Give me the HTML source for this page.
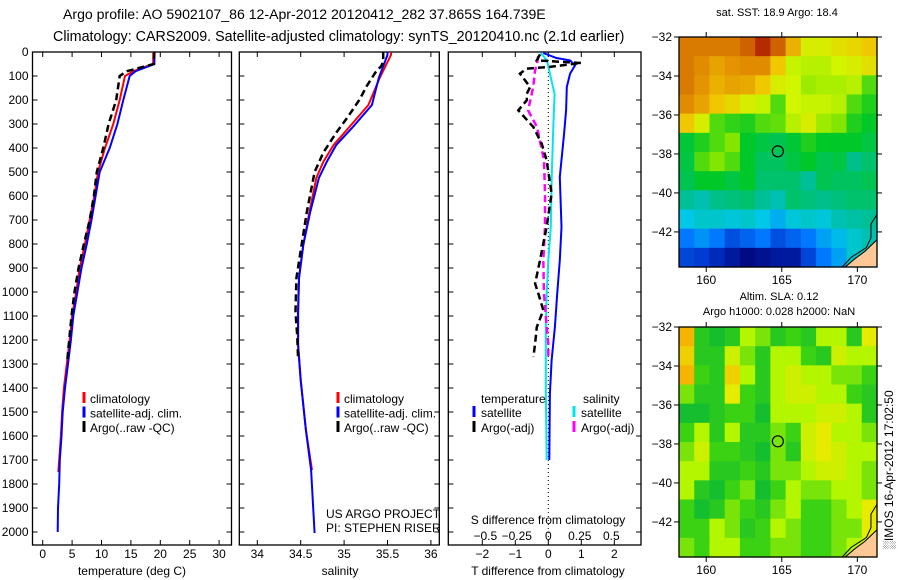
<!DOCTYPE html>
<html><head><meta charset="utf-8"><style>
html,body{margin:0;padding:0;background:#fff;}
svg{display:block;font-family:"Liberation Sans",sans-serif;}
text{fill:#000;}
</style></head><body>
<svg id="fig" width="900" height="580" viewBox="0 0 900 580">
<text x="63" y="19" font-size="14.1">Argo profile: AO 5902107_86 12-Apr-2012 20120412_282 37.865S 164.739E</text>
<text x="53" y="41" font-size="14.3">Climatology: CARS2009. Satellite-adjusted climatology: synTS_20120410.nc (2.1d earlier)</text>
</svg>
<script>
// ---- data ----
const depthT=[0,50,80,100,200,300,400,500,600,700,800,900,1000,1100,1200,1300,1400,1500,1600,1700,1750];
const tempClim=[18.8,18.8,15.4,14.0,13.1,12.0,10.6,9.4,8.8,8.0,7.2,6.3,5.7,5.0,4.6,4.1,3.6,3.3,3.1,2.8,2.65];
const depthTS=[0,50,80,100,200,300,400,500,600,700,800,900,1000,1100,1200,1300,1400,1500,1600,1700,1800,1900,2000];
const tempSat=[19.0,19.0,15.8,14.8,13.7,12.7,11.4,9.7,9.0,8.3,7.5,6.6,5.9,5.2,4.8,4.3,3.8,3.4,3.2,2.9,2.8,2.6,2.55];
const depthA=[0,50,80,100,200,300,400,500,600,700,800,900,1000,1100,1200,1280];
const tempArgo=[19.0,18.9,14.3,13.1,12.5,11.2,10.3,9.2,8.7,8.0,7.0,6.1,5.4,4.9,4.5,4.2];
const depthS=[0,12,108,221,317,387,458,525,667,804,942,1083,1221,1367,1575,1742];
const salClim=[35.54,35.54,35.41,35.28,35.05,34.88,34.76,34.68,34.60,34.53,34.48,34.47,34.47,34.50,34.56,34.63];
const depthSS=[0,12,108,221,317,387,458,525,667,804,942,1083,1221,1367,1575,1742,2004];
const salSat=[35.50,35.50,35.40,35.32,35.09,34.91,34.80,34.71,34.61,34.53,34.48,34.47,34.47,34.50,34.56,34.62,34.66];
const depthSA=[0,40,58,86,142,197,267,336,419,500,667,804,942,1083,1180,1280];
const salArgo=[35.45,35.45,35.43,35.36,35.26,35.18,35.05,34.91,34.76,34.66,34.57,34.51,34.45,34.44,34.46,34.47];
const depthD=[4,25,35,56,90,146,243,340,521,729,868,1007,1146,1285,1424,1700];
const tDiffSat=[-0.15,0.25,0.66,0.81,0.66,0.56,0.54,0.48,0.35,0.40,0.35,0.27,0.20,0.10,0.05,0.03];
const depthDS=[4,35,90,174,313,521,729,868,1007,1146,1424,1700];
const sDiffSat=[-0.06,-0.01,0.013,0.05,0.04,0.027,0.02,0,-0.013,-0.02,-0.02,-0.013];
const depthDA=[10,35,46,62,69,90,146,174,201,243,313,382,451,590,729,868,965,1007,1076,1146,1215,1271];
const tDiffArgo=[-0.25,-0.35,1.0,0.05,-0.65,-0.86,-0.55,-0.65,-0.65,-0.91,-0.45,-0.2,-0.05,0.1,-0.05,-0.25,-0.4,-0.3,-0.15,-0.35,-0.4,-0.45];
const depthDM=[17,49,76,146,243,313,451,590,729,868,1007,1146,1215,1271];
const sDiffArgo=[-0.08,-0.09,-0.105,-0.12,-0.16,-0.09,-0.034,-0.026,-0.026,-0.04,-0.034,-0.013,0,0];
const depthTicks=[0,100,200,300,400,500,600,700,800,900,1000,1100,1200,1300,1400,1500,1600,1700,1800,1900,2000];
const tempTicks=[0,5,10,15,20,25,30];
const salTicks=[34,34.5,35,35.5,36];
const salTickLabels=["34","34.5","35","35.5","36"];
const tdTicks=[-2,-1,0,1,2];
const sdTicks=[-0.5,-0.25,0,0.25,0.5];
const sdTickLabels=["\u22120.5","\u22120.25","0","0.25","0.5"];
const lonTicks=[160,165,170];
const latTicks=[-32,-34,-36,-38,-40,-42];
const argoLon=164.739, argoLat=-37.865;
const sstGrid=[
[20,20,20,20,20.3,20.8,20.3,19.3,18.5,18.5,18.7,18.8,19],
[20,19.8,19.5,19.7,19.8,19.8,19,18.3,18.2,18.2,18.4,18.5,18.7],
[20,19.7,19.3,19.5,19.4,19,18.5,18.4,18,18.1,18.1,18.2,17.5],
[19.8,19.5,19,18.8,18.5,18.3,17.5,18.4,18.3,18.3,18.2,17.5,17.2],
[19,18.5,17.5,17.3,17.2,17.5,17.6,18.2,18.5,18,17.8,17.2,17],
[16.9,17.2,17.5,17.8,17,16.8,16.7,16.9,17.2,17,17,17,16.8],
[16.8,17.5,17.8,17.5,17,16.6,16.6,16.8,17,16.7,16.8,16.3,16.5],
[16.7,17,17,16.8,17,16.5,16.5,16.5,16.2,16.7,16.6,16.6,16.7],
[16.2,16,16.3,16.4,16.5,16.2,16,16.5,16.4,16.3,16.4,16.5,16.5],
[15.6,15.8,15.8,15.7,15.8,15.6,15.4,15.7,15.8,15.7,16,16.1,16.2],
[15,15.2,15,14.6,14.8,15,14.6,14.8,15,15.3,15.5,15.8,16],
[14.5,14.4,14.2,14,13.8,13.9,14,14,14.5,15,15.3,15.8,16]];
const slaGrid=[
[.9,.2,.1,.2,.5,.4,.2,.3,.2,.5,.5,.2,.7],
[.8,.2,.2,.6,.4,.2,.5,.5,.3,.2,.6,.5,.5],
[.9,.3,.2,.8,.5,.2,.5,.6,.5,.5,.4,.4,.3],
[.4,.2,.2,.7,.3,.2,.5,.6,.6,.5,.5,.3,.2],
[.1,.1,.2,.3,.3,.1,.5,.5,.5,.6,.6,.5,.2],
[.3,.5,.2,.5,.2,.2,.4,.3,.6,.7,.5,.5,.4],
[.4,.6,.3,.3,.2,.1,.4,.2,.6,.7,.6,.5,.5],
[.5,.5,.2,.2,.3,.2,.4,.4,.5,.6,.6,.5,.4],
[.5,.2,.1,.3,.4,.1,.3,.5,.4,.4,.5,.5,.4],
[.3,.1,.2,.4,.3,.2,.4,.5,.3,.3,.4,.5,.7],
[.3,.3,.5,.4,.2,.3,.5,.4,.3,.3,.4,.4,.7],
[.4,.3,.5,.5,.3,.3,.4,.4,.3,.3,.4,.5,.6]];

const NS='http://www.w3.org/2000/svg';
const svg=document.getElementById('fig');
function mk(tag,attrs,parent){const e=document.createElementNS(NS,tag);for(const k in attrs)e.setAttribute(k,attrs[k]);(parent||svg).appendChild(e);return e;}
const Y0=52, YB=545, yPerM=0.24;
const yD=d=>Y0+d*yPerM;
const xT=t=>42.7+t*5.88;
const xS=s=>257.3+(s-34)*86.8;
const xTD=v=>548.3+v*33;
const xSD=v=>548.3+v*126;
function poly(xs,ds,fx,color,dash,name){
  const pts=xs.map((v,i)=>fx(v).toFixed(1)+','+yD(ds[i]).toFixed(1)).join(' ');
  const p=mk('polyline',{points:pts,fill:'none',stroke:color,'stroke-width':dash?2.5:2,'stroke-dasharray':dash?'7,4':'none'});
  
  
}
function panel(x0,x1,name,leftLabels){
  const r=mk('rect',{x:x0,y:Y0,width:x1-x0,height:YB-Y0,fill:'#fff',stroke:'#000','stroke-width':1.3});
  
  
  depthTicks.forEach(d=>{
    mk('line',{x1:x0,x2:x0+5,y1:yD(d),y2:yD(d),stroke:'#000'});
    mk('line',{x1:x1,x2:x1-5,y1:yD(d),y2:yD(d),stroke:'#000'});
    if(leftLabels){const t=mk('text',{x:x0-4,y:yD(d)+4,'font-size':12,'text-anchor':'end'});t.textContent=d;
      
      }
  });
}
function xticks(vals,labels,fx,ylab){
  vals.forEach((v,i)=>{const x=fx(v);
    mk('line',{x1:x,x2:x,y1:YB,y2:YB-5,stroke:'#000'});mk('line',{x1:x,x2:x,y1:Y0,y2:Y0+5,stroke:'#000'});
    if(labels){const t=mk('text',{x:x,y:ylab,'font-size':12,'text-anchor':'middle'});t.textContent=labels[i];
      
      }
  });
}
function txt(x,y,s,size,name,anchor){const t=mk('text',{x:x,y:y,'font-size':size,'text-anchor':anchor||'start'});t.textContent=s;
  
  return t;}
function legMark(x,y,color,name){const l=mk('line',{x1:x,x2:x,y1:y-11,y2:y,stroke:color,'stroke-width':3});
  
  }

panel(32.5,231.5,'temperature-panel',true);
xticks(tempTicks,tempTicks.map(String),xT,558);
txt(132,575,'temperature (deg C)',12,'temperature-axis-title','middle');
poly(tempClim,depthT,xT,'#ff0000',false,'temp-climatology-line');
poly(tempSat,depthTS,xT,'#0000ff',false,'temp-satellite-line');
poly(tempArgo,depthA,xT,'#000',true,'temp-argo-line');
[['climatology','#ff0000'],['satellite-adj. clim.','#0000ff'],['Argo(..raw -QC)','#000']].forEach((e,i)=>{
  legMark(84,403+i*14.5,e[1],'temp-legend-marker');txt(90,403+i*14.5,e[0],12,'temp-legend-entry');});

panel(239.3,439.3,'salinity-panel',false);
xticks(salTicks,salTickLabels,xS,558);
txt(340,575,'salinity',12,'salinity-axis-title','middle');
poly(salClim,depthS,xS,'#ff0000',false,'sal-climatology-line');
poly(salSat,depthSS,xS,'#0000ff',false,'sal-satellite-line');
poly(salArgo,depthSA,xS,'#000',true,'sal-argo-line');
[['climatology','#ff0000'],['satellite-adj. clim.','#0000ff'],['Argo(..raw -QC)','#000']].forEach((e,i)=>{
  legMark(338,403+i*14.5,e[1],'sal-legend-marker');txt(344,403+i*14.5,e[0],12,'sal-legend-entry');});
txt(326,518,'US ARGO PROJECT',12,'project-label');
txt(326,532,'PI: STEPHEN RISER',12,'pi-label');

panel(448.3,641,'difference-panel',false);
xticks(tdTicks,tdTicks.map(v=>v<0?'\u2212'+(-v):String(v)),xTD,558);
sdTicks.forEach((v,i)=>txt(xSD(v),540,sdTickLabels[i],12,'s-diff-tick-label','middle'));
mk('line',{x1:548.3,x2:548.3,y1:Y0,y2:YB,stroke:'#000','stroke-dasharray':'1,3'});
txt(548,524,'S difference from climatology',12,'s-diff-axis-title','middle');
txt(548,575,'T difference from climatology',12,'t-diff-axis-title','middle');
poly(sDiffSat,depthDS,xSD,'#00e5ee',false,'sal-diff-satellite-line');
poly(sDiffArgo,depthDM,xSD,'#ff00ff',true,'sal-diff-argo-line');
poly(tDiffSat,depthD,xTD,'#0000ff',false,'temp-diff-satellite-line');
poly(tDiffArgo,depthDA,xTD,'#000',true,'temp-diff-argo-line');
txt(481,403,'temperature',12,'diff-legend-temperature-heading');
txt(583,403,'salinity',12,'diff-legend-salinity-heading');
legMark(474,417,'#0000ff','diff-legend-marker');txt(481,417,'satellite',12,'diff-legend-entry');
legMark(474,432,'#000','diff-legend-marker');txt(481,432,'Argo(-adj)',12,'diff-legend-entry');
legMark(574,417,'#00e5ee','diff-legend-marker');txt(581,417,'satellite',12,'diff-legend-entry');
legMark(574,432,'#ff00ff','diff-legend-marker');txt(581,432,'Argo(-adj)',12,'diff-legend-entry');

const MX0=679, MX1=877, lonMin=158.2, lonMax=171.3;
const xLon=l=>MX0+(l-lonMin)*(MX1-MX0)/(lonMax-lonMin);
function rgb(a){return 'rgb('+a.map(Math.round).join(',')+')';}
function lerpC(stops,v){
  if(v<=stops[0][0])return rgb(stops[0][1]);
  for(let i=1;i<stops.length;i++){if(v<=stops[i][0]){const a=stops[i-1],b=stops[i],f=(v-a[0])/(b[0]-a[0]);
    return rgb([0,1,2].map(k=>a[1][k]+(b[1][k]-a[1][k])*f));}}
  return rgb(stops[stops.length-1][1]);
}
const sstStops=[[13.8,[0,10,130]],[14.3,[0,50,200]],[15,[0,120,255]],[15.6,[0,200,230]],[16.2,[0,190,150]],[17,[0,200,40]],[17.8,[130,230,0]],[18.4,[210,245,0]],[19,[240,200,0]],[19.8,[225,140,0]],[20.4,[200,90,0]],[21,[170,20,0]]];
const slaStops=[[0,[0,180,60]],[0.3,[60,210,20]],[0.5,[180,245,0]],[0.7,[230,235,0]],[0.9,[245,180,0]]];
function map(y0,y1,grid,stops,name){
  const latMin=-32, latMax=-43.8;
  const yLat=l=>y0+(l-latMin)*(y1-y0)/(latMax-latMin);
  const g=mk('g',{});
  
  
  const nr=grid.length,nc=grid[0].length;
  const cw=(MX1-MX0)/nc,ch=(y1-y0)/nr;
  grid.forEach((row,r)=>row.forEach((v,c)=>{
    const cell=mk('rect',{x:(MX0+c*cw).toFixed(2),y:(y0+r*ch).toFixed(2),width:(cw+0.6).toFixed(2),height:(ch+0.6).toFixed(2),fill:lerpC(stops,v)},g);
    
    
  }));
  const land=mk('polygon',{points:[[171.3,-42.4],[170.5,-43.0],[169.8,-43.4],[169.2,-43.8],[171.3,-43.8]].map(p=>xLon(p[0])+','+yLat(p[1])).join(' '),fill:'#fdc896',stroke:'#000','stroke-width':1},g);
  
  
  mk('polyline',{points:[[171.3,-41.1],[170.9,-41.6],[170.9,-42.3],[170.6,-42.8],[169.6,-43.3],[169.0,-43.8]].map(p=>xLon(p[0])+','+yLat(p[1])).join(' '),fill:'none',stroke:'#000','stroke-width':1},g);
  mk('rect',{x:MX0,y:y0,width:MX1-MX0,height:y1-y0,fill:'none',stroke:'#000','stroke-width':1.3});
  lonTicks.forEach(l=>{const x=xLon(l);mk('line',{x1:x,x2:x,y1:y0,y2:y0-5,stroke:'#000'});mk('line',{x1:x,x2:x,y1:y1,y2:y1+5,stroke:'#000'});
    txt(x,y1+17,String(l),12,'lon-tick-label','middle');});
  latTicks.forEach(l=>{const y=yLat(l);mk('line',{x1:MX0,x2:MX0-5,y1:y,y2:y,stroke:'#000'});mk('line',{x1:MX1,x2:MX1+5,y1:y,y2:y,stroke:'#000'});
    txt(MX0-7,y+4,'\u2212'+(-l),12,'lat-tick-label','end');});
  const c=mk('circle',{cx:xLon(argoLon),cy:yLat(argoLat),r:5.5,fill:'none',stroke:'#000','stroke-width':1.2});
  
  
}
map(37,267,sstGrid,sstStops,'sst-map');
txt(777,16,'sat. SST: 18.9 Argo: 18.4',11,'sst-map-title','middle');
map(327,557,slaGrid,slaStops,'sla-map');
txt(779,300,'Altim. SLA: 0.12',11,'sla-map-title','middle');
txt(779,315,'Argo h1000: 0.028 h2000: NaN',11,'sla-map-subtitle','middle');
const side=txt(0,0,'\u2591IMOS 16-Apr-2012 17:02:50',12,'timestamp-label','middle');
side.setAttribute('transform','translate(893,470) rotate(-90)');
</script>
</body></html>
